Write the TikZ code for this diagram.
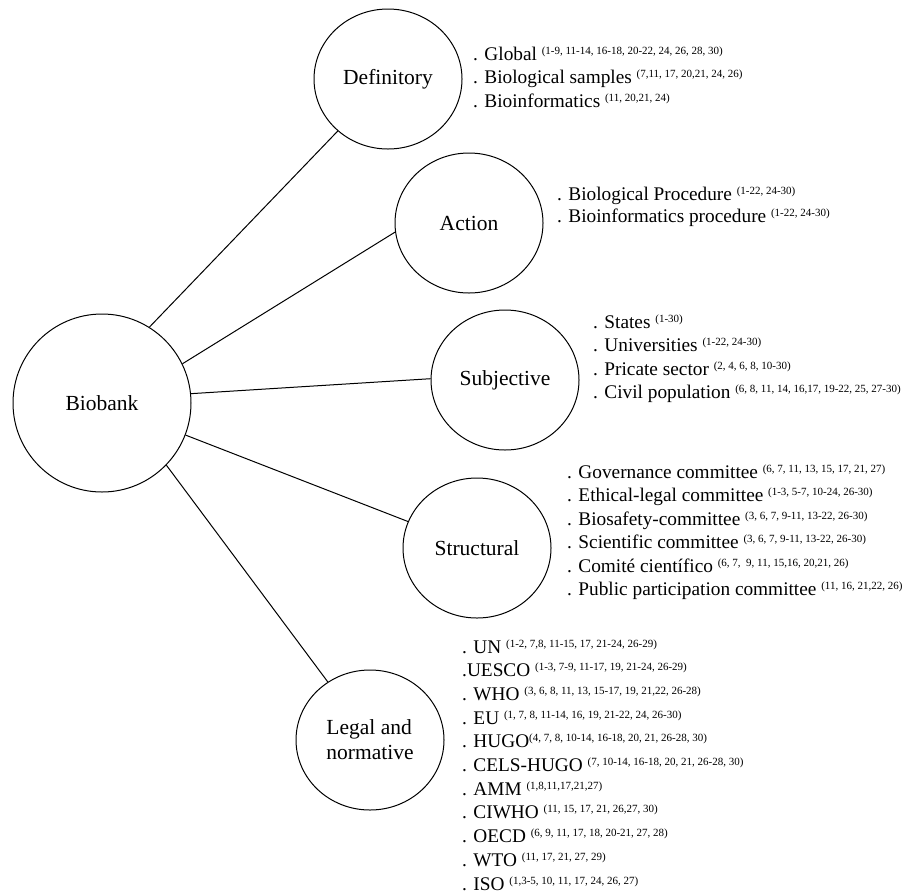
\documentclass[tikz,border=0pt]{standalone}
\usepackage{fontspec}
\setmainfont{Liberation Serif}
\usetikzlibrary{shapes.geometric}
\newcommand\rfs[1]{\raisebox{6pt}{\fontsize{11}{12}\selectfont #1}}
\tikzset{
  hub/.style={draw, circle, minimum size=178pt, inner sep=0pt, line width=1pt,
    font=\fontsize{21.5}{25}\selectfont},
  cat/.style={draw, ellipse, minimum width=148pt, minimum height=140pt, inner sep=0pt,
    line width=1pt, font=\fontsize{21.5}{25}\selectfont},
  item/.style={anchor=base west, inner sep=0pt, font=\fontsize{19.3}{22}\selectfont},
  link/.style={line width=1pt}
}
\begin{document}
\begin{tikzpicture}[x=1pt,y=-1pt]
\useasboundingbox (0,0) rectangle (912,895);
\node[hub] (bio) at (102,403) {Biobank};
\node[cat] (def) at (388,79) {Definitory};
\node[cat] (act) at (469,223) {Action};
\node[cat] (sub) at (505,380) {Subjective};
\node[cat] (str) at (477,548) {Structural};
\node[cat, align=left] (leg) at (370,740) {Legal and\\normative};

\draw[link] (bio.58) -- (def.226);
\draw[link] (bio.26) -- (act.187);
\draw[link] (bio.6) -- (sub.179);
\draw[link] (bio.-21) -- (str.159);
\draw[link] (bio.-44) -- (leg.126);

% Definitory
\node[item] (d1) at (473,60) {. Global \rfs{(1-9, 11-14, 16-18, 20-22, 24, 26, 28, 30)}};
\node[item] (d2) at (473,83.5) {. Biological samples \rfs{(7,11, 17, 20,21, 24, 26)}};
\node[item] (d3) at (473,107) {. Bioinformatics \rfs{(11, 20,21, 24)}};
% Action
\node[item] (a1) at (557,200) {. Biological Procedure \rfs{(1-22, 24-30)}};
\node[item] (a2) at (557,222) {. Bioinformatics procedure \rfs{(1-22, 24-30)}};
% Subjective
\node[item] (s1) at (593,328) {. States \rfs{(1-30)}};
\node[item] (s2) at (593,351.5) {. Universities \rfs{(1-22, 24-30)}};
\node[item] (s3) at (593,375) {. Pricate sector \rfs{(2, 4, 6, 8, 10-30)}};
\node[item] (s4) at (593,398) {. Civil population \rfs{(6, 8, 11, 14, 16,17, 19-22, 25, 27-30)}};
% Structural
\node[item] (t1) at (567,478) {. Governance committee \rfs{(6, 7, 11, 13, 15, 17, 21, 27)}};
\node[item] (t2) at (567,501.5) {. Ethical-legal committee \rfs{(1-3, 5-7, 10-24, 26-30)}};
\node[item] (t3) at (567,525) {. Biosafety-committee \rfs{(3, 6, 7, 9-11, 13-22, 26-30)}};
\node[item] (t4) at (567,548.5) {. Scientific committee \rfs{(3, 6, 7, 9-11, 13-22, 26-30)}};
\node[item] (t5) at (567,572) {. Comité científico \rfs{(6, 7,\ \ 9, 11, 15,16, 20,21, 26)}};
\node[item] (t6) at (567,595) {. Public participation committee \rfs{(11, 16, 21,22, 26)}};
% Legal and normative
\node[item] (l1) at (462,653) {. UN \rfs{(1-2, 7,8, 11-15, 17, 21-24, 26-29)}};
\node[item] (l2) at (462,676.7) {.UESCO \rfs{(1-3, 7-9, 11-17, 19, 21-24, 26-29)}};
\node[item] (l3) at (462,700.4) {. WHO \rfs{(3, 6, 8, 11, 13, 15-17, 19, 21,22, 26-28)}};
\node[item] (l4) at (462,724.1) {. EU \rfs{(1, 7, 8, 11-14, 16, 19, 21-22, 24, 26-30)}};
\node[item] (l5) at (462,747.8) {. HUGO\rfs{(4, 7, 8, 10-14, 16-18, 20, 21, 26-28, 30)}};
\node[item] (l6) at (462,771.5) {. CELS-HUGO \rfs{(7, 10-14, 16-18, 20, 21, 26-28, 30)}};
\node[item] (l7) at (462,795.2) {. AMM \rfs{(1,8,11,17,21,27)}};
\node[item] (l8) at (462,818.9) {. CIWHO \rfs{(11, 15, 17, 21, 26,27, 30)}};
\node[item] (l9) at (462,842.6) {. OECD \rfs{(6, 9, 11, 17, 18, 20-21, 27, 28)}};
\node[item] (l10) at (462,866.3) {. WTO \rfs{(11, 17, 21, 27, 29)}};
\node[item] (l11) at (462,890) {. ISO \rfs{(1,3-5, 10, 11, 17, 24, 26, 27)}};
\end{tikzpicture}
\end{document}
